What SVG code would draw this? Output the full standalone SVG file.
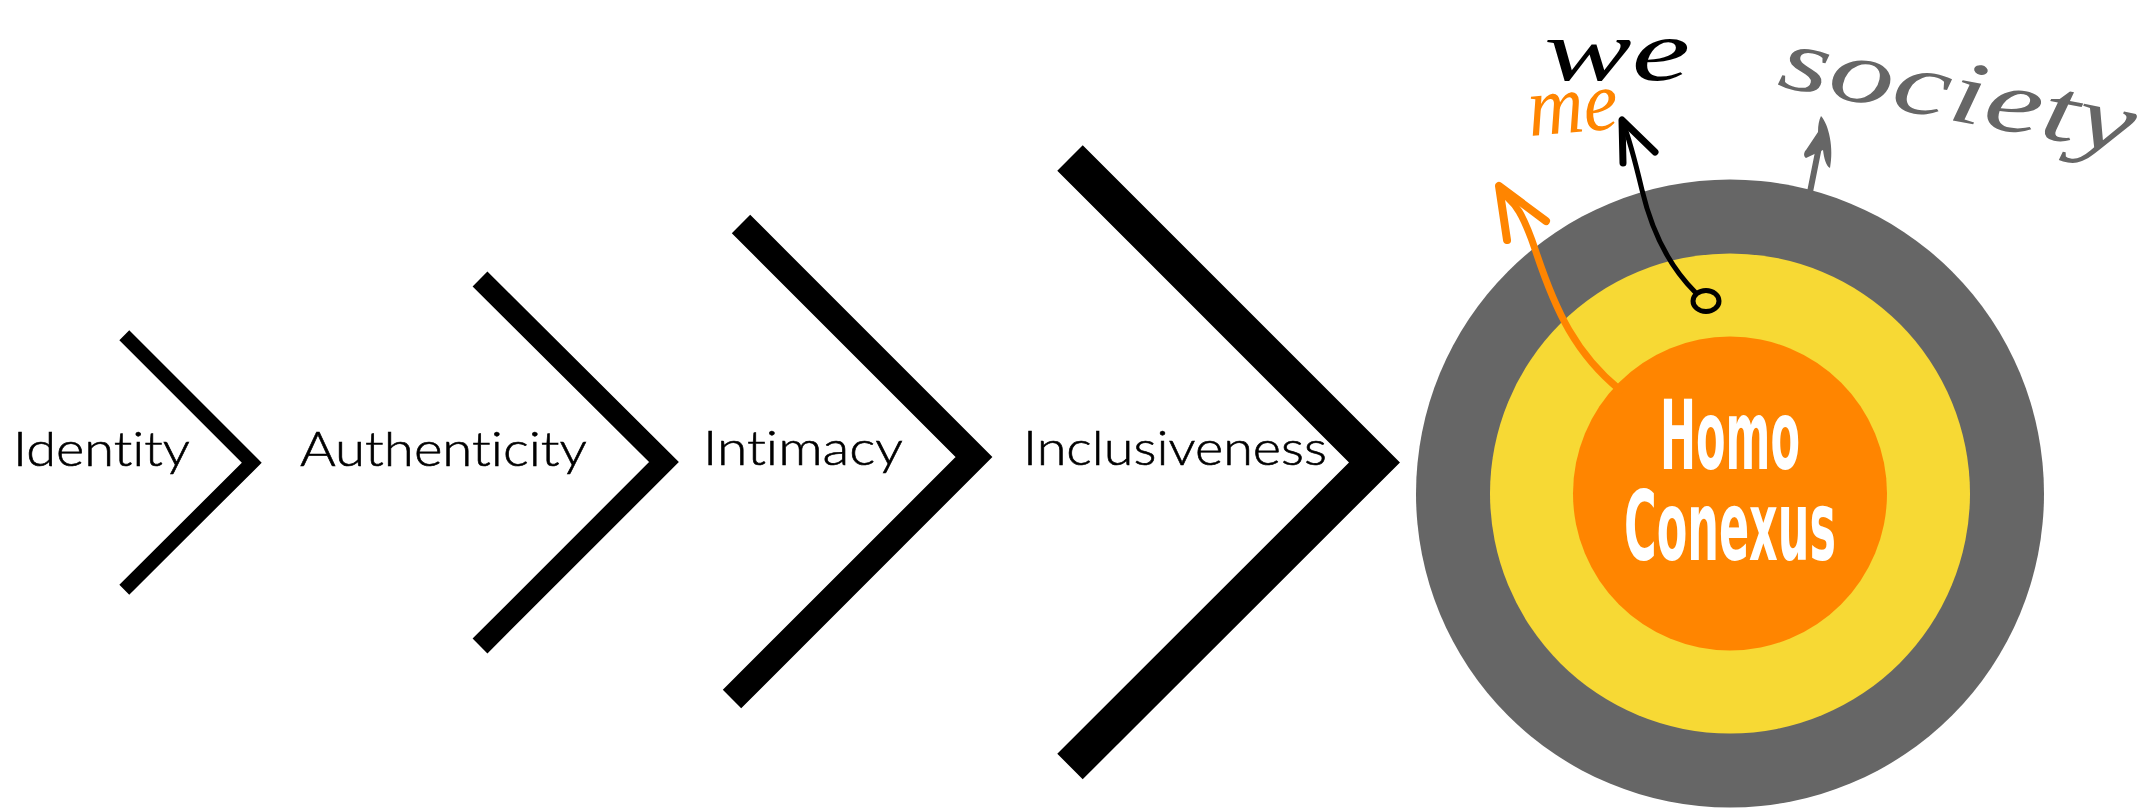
<svg xmlns="http://www.w3.org/2000/svg" width="2152" height="809" viewBox="0 0 2152 809">
  <style>
    .chev { fill: none; stroke: #000; stroke-linejoin: miter; stroke-linecap: butt; }
    .label { font-family: Lato, "Open Sans", "Liberation Sans", sans-serif; font-weight: 300; font-size: 48px; fill: #000; stroke: #000; stroke-width: 0.6px; font-variant-ligatures: none; font-feature-settings: "liga" 0, "clig" 0; }
    .core { font-family: "DejaVu Sans", "Liberation Sans", sans-serif; font-weight: bold; font-size: 96px; fill: #fff; }
    .hand { font-family: "Liberation Serif", "DejaVu Serif", serif; font-style: italic; }
  </style>
  <rect width="2152" height="809" fill="#fff"/>

  <g id="node-identity">
    <polyline class="chev" stroke-width="14" points="124.3,335.3 251.8,462.7 124.3,589.7"/>
    <text class="label" x="13" y="466" textLength="177" lengthAdjust="spacingAndGlyphs">Identity</text>
  </g>
  <g id="node-authenticity">
    <polyline class="chev" stroke-width="21" points="480,279 664,462 480,646"/>
    <text class="label" x="300" y="466" textLength="287" lengthAdjust="spacingAndGlyphs">Authenticity</text>
  </g>
  <g id="node-intimacy">
    <polyline class="chev" stroke-width="26" points="741,224 974,457 732,699"/>
    <text class="label" x="703" y="465" textLength="200" lengthAdjust="spacingAndGlyphs">Intimacy</text>
  </g>
  <g id="node-inclusiveness">
    <polyline class="chev" stroke-width="36" points="1070,158 1374.5,462.4 1070,766.5"/>
    <text class="label" x="1023" y="465" textLength="304" lengthAdjust="spacingAndGlyphs">Inclusiveness</text>
  </g>

  <g id="node-homo-conexus">
    <circle cx="1730" cy="493.5" r="314" fill="#666666"/>
    <circle cx="1730" cy="493.5" r="240" fill="#F7D934"/>
    <circle cx="1730" cy="493.5" r="157" fill="#FF8500"/>
    <text class="core"><tspan x="1660" y="469" textLength="140" lengthAdjust="spacingAndGlyphs">Homo</tspan><tspan x="1624" y="560" textLength="212" lengthAdjust="spacingAndGlyphs">Conexus</tspan></text>
  </g>

  <g id="connectors" fill="none" stroke-linecap="round" stroke-linejoin="round">
    <g id="arrow-me" stroke="#FF8500">
      <path d="M1620,390 C1576,354 1556,312 1536,252 S1508,204 1500,188" stroke-width="7"/>
      <path d="M1546,221 L1499,186 L1507,240" stroke-width="8"/>
    </g>
    <g id="arrow-we" stroke="#000">
      <path d="M1695,292 C1668,265 1652,232 1642,190 S1628,135 1622,120" stroke-width="5"/>
      <ellipse cx="1706" cy="301" rx="13" ry="10.5" stroke-width="5"/>
      <path d="M1655,152 L1622,120 L1623,163" stroke-width="7"/>
    </g>
    <g id="arrow-society">
      <path d="M1810,192 L1822,132" stroke="#666666" stroke-width="6"/>
      <path d="M1821,116 C1829,125 1834,148 1830,168 C1826,166 1824,158 1823,150 L1806,158 C1803,156 1804,152 1806,150 L1818,132 C1818,125 1819,120 1821,116 Z" fill="#666666" stroke="none"/>
    </g>
  </g>

  <g id="node-me">
    <text class="hand" x="1530" y="136" font-size="85" fill="#FF8500" textLength="90" lengthAdjust="spacingAndGlyphs" transform="rotate(-5 1530 136)">me</text>
  </g>
  <g id="node-we">
    <text class="hand" x="1544" y="80" font-size="86" fill="#000" textLength="146" lengthAdjust="spacingAndGlyphs">we</text>
  </g>
  <g id="node-society">
    <text class="hand" x="1776" y="86" font-size="90" fill="#666666" textLength="360" lengthAdjust="spacingAndGlyphs" transform="rotate(11 1776 86)">society</text>
  </g>
</svg>
